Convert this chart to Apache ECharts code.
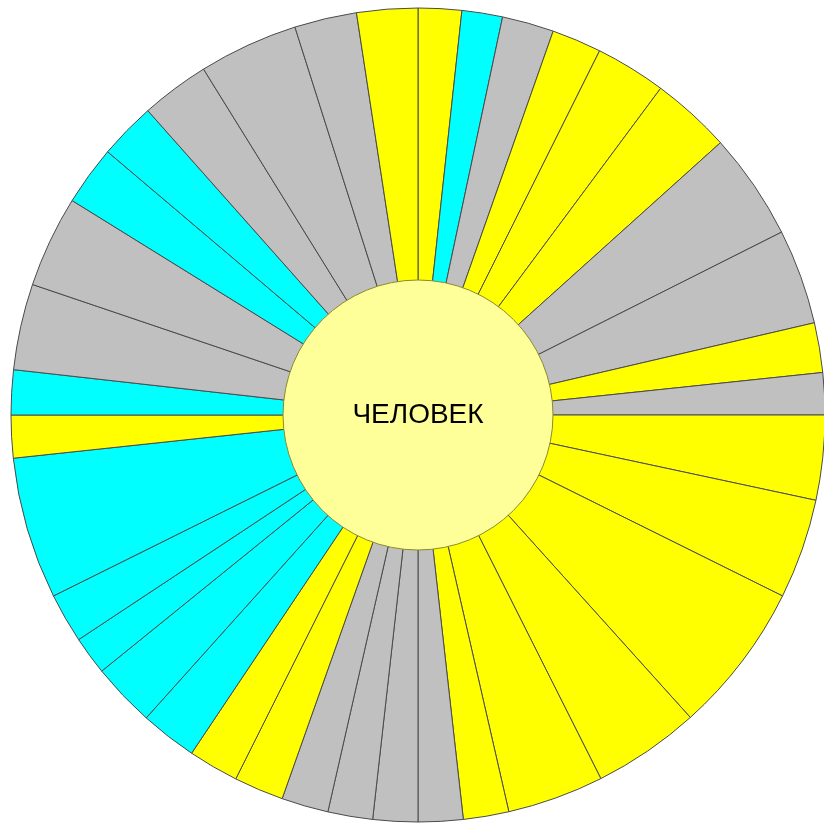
<!DOCTYPE html>
<html>
<head>
<meta charset="utf-8">
<title>ЧЕЛОВЕК</title>
<script src="https://cdn.jsdelivr.net/npm/echarts@6/dist/echarts.min.js"></script>
<style>
    html, body { margin: 0; padding: 0; background: #fff; }
    #container { width: 824px; height: 823px; }
</style>
</head>
<body>
<div id="container"></div>
<script>
    // sector sizes, clockwise from 12 o'clock
    var sectorValues = [6.2, 5.8, 7.4, 7.1, 10.1, 11.4, 15.3, 13.6, 7.1, 6.0,
        12.1, 14.3, 21.6, 15.3, 13.8, 6.5, 6.4, 6.4, 6.4, 6.7,
        7.1, 7.2, 8.1, 9.1, 5.5, 7.1, 20.3, 6.1, 6.4, 12.3,
        13.1, 8.5, 8.1, 9.8, 14.2, 8.9, 8.7];
    // group of each sector: 0 = yellow, 1 = cyan, 2 = gray
    var sectorGroups = [0, 1, 2, 0, 0, 0, 2, 2, 0, 2,
        0, 0, 0, 0, 0, 0, 2, 2, 2, 2,
        0, 0, 1, 1, 1, 1, 1, 0, 1, 2,
        2, 1, 1, 2, 2, 2, 0];
    var centerLabel = 'ЧЕЛОВЕК';

    var groupColors = ['#ffff00', '#00ffff', '#c0c0c0'];

    var dom = document.getElementById('container');
    var myChart = echarts.init(dom, null, {renderer: 'canvas'});

    var pieData = [];
    for (var i = 0; i < sectorValues.length; i++) {
        pieData.push({
            name: 's' + (i + 1),
            value: sectorValues[i],
            itemStyle: {color: groupColors[sectorGroups[i]]}
        });
    }

    var option = {
        animation: false,
        series: [
            {
                type: 'pie',
                center: [418, 415],
                radius: [0, 407],
                startAngle: 90,
                clockwise: true,
                silent: true,
                label: {show: false},
                labelLine: {show: false},
                itemStyle: {borderColor: '#4a4a4a', borderWidth: 1},
                data: pieData
            },
            {
                type: 'pie',
                center: [418, 415],
                radius: [0, 135],
                silent: true,
                z: 3,
                label: {
                    show: true,
                    position: 'center',
                    color: '#000',
                    fontSize: 28,
                    fontFamily: 'Liberation Sans, Arial, sans-serif'
                },
                labelLine: {show: false},
                itemStyle: {color: '#ffff99', borderColor: '#8a8a30', borderWidth: 1},
                data: [{name: centerLabel, value: 1}]
            }
        ]
    };
    myChart.setOption(option);
</script>
</body>
</html>
